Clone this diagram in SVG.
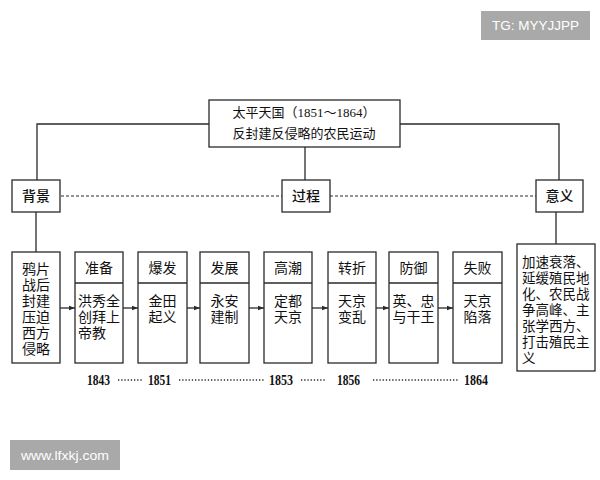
<svg xmlns="http://www.w3.org/2000/svg" width="600" height="480" viewBox="0 0 600 480">
<defs>
<style>
.box{fill:#fff;stroke:#2a2a2a;stroke-width:1.3}
.ln{fill:none;stroke:#2a2a2a;stroke-width:1.3}
.dash{fill:none;stroke:#2a2a2a;stroke-width:1.2;stroke-dasharray:3 2}
.dot{fill:none;stroke:#2a2a2a;stroke-width:1.6;stroke-dasharray:1.3 1.9}
.t{font-family:"Liberation Serif","Noto Sans CJK SC",serif;font-size:14px;fill:#111}
.c{text-anchor:middle}
.h{font-weight:500}
.d{font-family:"Liberation Serif",serif;font-size:15px;fill:#111;font-weight:bold}
.wm{font-family:"Liberation Sans",Arial,sans-serif;font-size:13px;fill:#fff;text-anchor:middle}
</style>
<marker id="ah" markerWidth="7" markerHeight="6" refX="6.5" refY="3" orient="auto" markerUnits="userSpaceOnUse">
<path d="M0,0.5 L6.5,3 L0,5.5 Z" fill="#2a2a2a"/>
</marker>
</defs>
<rect width="600" height="480" fill="#fff"/>

<g id="connectors">
<polyline class="ln" points="209,124 37,124 37,180"/>
<polyline class="ln" points="400,124 559,124 559,180"/>
<line class="ln" x1="305" y1="147" x2="305" y2="180"/>
<line class="dash" x1="61" y1="196" x2="282" y2="196"/>
<line class="dash" x1="330" y1="196" x2="536" y2="196"/>
<line class="ln" x1="36" y1="212" x2="36" y2="252"/>
<line class="ln" x1="556" y1="212" x2="556" y2="244"/>
<line class="ln" x1="60" y1="308" x2="75" y2="308" marker-end="url(#ah)"/>
<line class="ln" x1="123" y1="308" x2="138" y2="308" marker-end="url(#ah)"/>
<line class="ln" x1="187" y1="308" x2="200" y2="308" marker-end="url(#ah)"/>
<line class="ln" x1="249" y1="308" x2="264" y2="308" marker-end="url(#ah)"/>
<line class="ln" x1="312" y1="308" x2="328" y2="308" marker-end="url(#ah)"/>
<line class="ln" x1="376" y1="308" x2="389" y2="308" marker-end="url(#ah)"/>
<line class="ln" x1="438" y1="308" x2="453" y2="308" marker-end="url(#ah)"/>
</g>

<g id="root">
<rect class="box" x="209" y="100" width="191" height="47"/>
<text class="t c" x="304" y="117" style="font-size:13px">太平天国（1851～1864）</text>
<text class="t c" x="304" y="138" style="font-size:13px">反封建反侵略的农民运动</text>
</g>

<g id="beijing">
<rect class="box" x="12" y="180" width="48" height="32"/>
<text class="t c h" x="36" y="201">背景</text>
</g>
<g id="guocheng">
<rect class="box" x="282" y="180" width="48" height="32"/>
<text class="t c h" x="306" y="201">过程</text>
</g>
<g id="yiyi">
<rect class="box" x="536" y="180" width="47" height="32"/>
<text class="t c h" x="559.5" y="201">意义</text>
</g>

<g id="bg-content">
<rect class="box" x="12" y="252" width="48" height="111"/>
<text class="t c" x="36" y="274">鸦片</text>
<text class="t c" x="36" y="290">战后</text>
<text class="t c" x="36" y="306">封建</text>
<text class="t c" x="36" y="322">压迫</text>
<text class="t c" x="36" y="338">西方</text>
<text class="t c" x="36" y="354">侵略</text>
</g>

<g id="zhunbei">
<rect class="box" x="75" y="252" width="48" height="111"/>
<line class="ln" x1="75" y1="283" x2="123" y2="283"/>
<text class="t c" x="99" y="273">准备</text>
<text class="t c" x="99" y="306">洪秀全</text>
<text class="t c" x="99" y="322">创拜上</text>
<text class="t" x="78" y="338">帝教</text>
</g>

<g id="baofa">
<rect class="box" x="138" y="252" width="49" height="111"/>
<line class="ln" x1="138" y1="283" x2="187" y2="283"/>
<text class="t c" x="162.5" y="273">爆发</text>
<text class="t c" x="162.5" y="306">金田</text>
<text class="t c" x="162.5" y="322">起义</text>
</g>

<g id="fazhan">
<rect class="box" x="200" y="252" width="49" height="111"/>
<line class="ln" x1="200" y1="283" x2="249" y2="283"/>
<text class="t c" x="224.5" y="273">发展</text>
<text class="t c" x="224.5" y="306">永安</text>
<text class="t c" x="224.5" y="322">建制</text>
</g>

<g id="gaochao">
<rect class="box" x="264" y="252" width="48" height="111"/>
<line class="ln" x1="264" y1="283" x2="312" y2="283"/>
<text class="t c" x="288" y="273">高潮</text>
<text class="t c" x="288" y="306">定都</text>
<text class="t c" x="288" y="322">天京</text>
</g>

<g id="zhuanzhe">
<rect class="box" x="328" y="252" width="48" height="111"/>
<line class="ln" x1="328" y1="283" x2="376" y2="283"/>
<text class="t c" x="352" y="273">转折</text>
<text class="t c" x="352" y="306">天京</text>
<text class="t c" x="352" y="322">变乱</text>
</g>

<g id="fangyu">
<rect class="box" x="389" y="252" width="49" height="111"/>
<line class="ln" x1="389" y1="283" x2="438" y2="283"/>
<text class="t c" x="413.5" y="273">防御</text>
<text class="t c" x="413.5" y="306">英、忠</text>
<text class="t c" x="413.5" y="322">与干王</text>
</g>

<g id="shibai">
<rect class="box" x="453" y="252" width="49" height="111"/>
<line class="ln" x1="453" y1="283" x2="502" y2="283"/>
<text class="t c" x="477.5" y="273">失败</text>
<text class="t c" x="477.5" y="306">天京</text>
<text class="t c" x="477.5" y="322">陷落</text>
</g>

<g id="yiyi-content">
<rect class="box" x="517" y="244" width="78" height="127"/>
<text class="t" x="522" y="267" style="font-size:13.5px">加速衰落、</text>
<text class="t" x="522" y="283" style="font-size:13.5px">延缓殖民地</text>
<text class="t" x="522" y="299" style="font-size:13.5px">化、农民战</text>
<text class="t" x="522" y="315" style="font-size:13.5px">争高峰、主</text>
<text class="t" x="522" y="331" style="font-size:13.5px">张学西方、</text>
<text class="t" x="522" y="347" style="font-size:13.5px">打击殖民主</text>
<text class="t" x="522" y="363" style="font-size:13.5px">义</text>
</g>

<g id="timeline">
<text class="d" x="87" y="385" textLength="23" lengthAdjust="spacingAndGlyphs">1843</text>
<line class="dot" x1="118" y1="380" x2="142" y2="380"/>
<text class="d" x="148" y="385" textLength="23" lengthAdjust="spacingAndGlyphs">1851</text>
<line class="dot" x1="179" y1="380" x2="264" y2="380"/>
<text class="d" x="269" y="385" textLength="24" lengthAdjust="spacingAndGlyphs">1853</text>
<line class="dot" x1="301" y1="380" x2="325" y2="380"/>
<text class="d" x="337" y="385" textLength="23" lengthAdjust="spacingAndGlyphs">1856</text>
<line class="dot" x1="373" y1="380" x2="458" y2="380"/>
<text class="d" x="464" y="385" textLength="24" lengthAdjust="spacingAndGlyphs">1864</text>
</g>

<g id="watermarks">
<rect x="481" y="11" width="109" height="29" fill="#a9a9a9"/>
<text class="wm" x="535.5" y="30" textLength="87" lengthAdjust="spacingAndGlyphs">TG: MYYJJPP</text>
<rect x="10" y="440" width="110" height="30" fill="#a9a9a9"/>
<text class="wm" x="65" y="460" textLength="88" lengthAdjust="spacingAndGlyphs">www.lfxkj.com</text>
</g>
</svg>
